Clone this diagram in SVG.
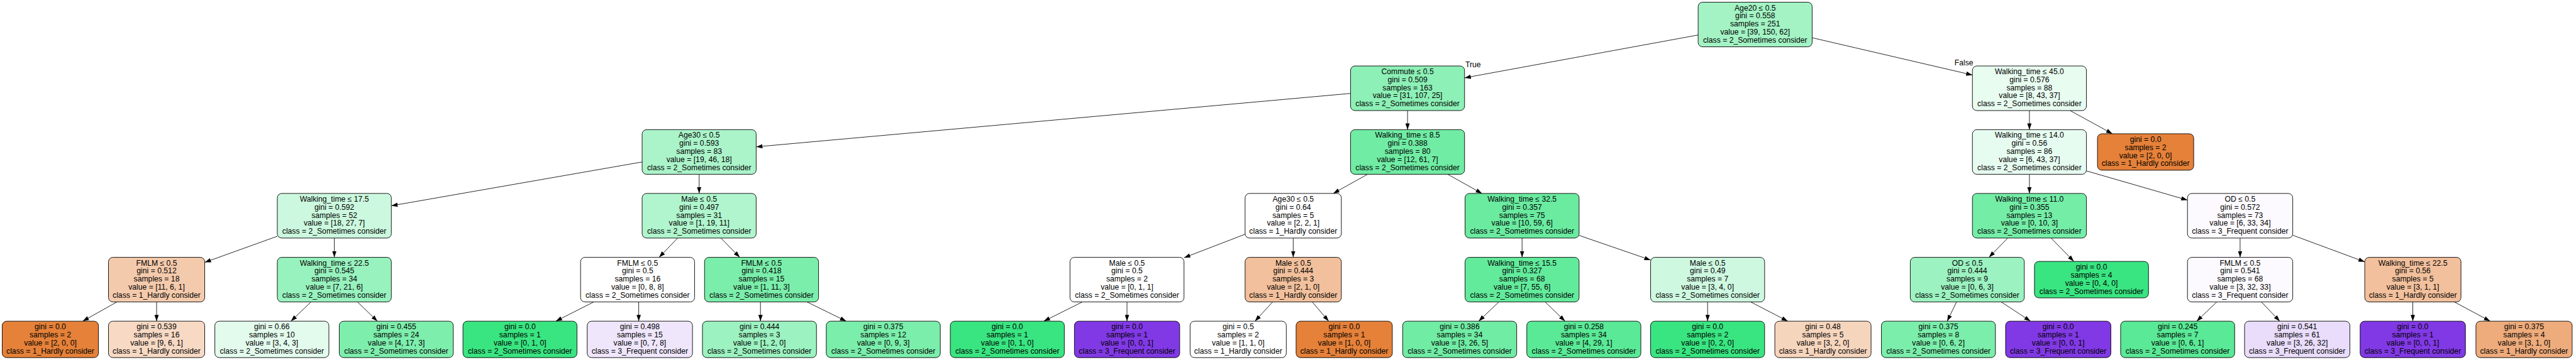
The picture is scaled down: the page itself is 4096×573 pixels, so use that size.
<svg xmlns="http://www.w3.org/2000/svg" width="4096" height="573" viewBox="0 0 4096 573">
<style>
.n{stroke:#000;stroke-width:0.9}
.t{font-family:"Liberation Sans",Arial,sans-serif;font-size:12.2px;fill:#000;text-anchor:middle}
.l{font-family:"Liberation Sans",Arial,sans-serif;font-size:12.2px;fill:#000}
.e line{stroke:#000;stroke-width:0.85;marker-end:url(#arr)}
</style>
<defs>
<marker id="arr" markerUnits="userSpaceOnUse" markerWidth="10" markerHeight="7" refX="9.6" refY="3.3" orient="auto" viewBox="0 0 9.6 6.6"><path d="M0,0 L9.6,3.3 L0,6.6 z" fill="#000"/></marker>
</defs>
<rect width="4096" height="573" fill="#fff"/>
<g id="connectors" class="e">
<line x1="2700.2" y1="55.7" x2="2328.8" y2="123.9"/>
<line x1="2881.5" y1="60.1" x2="3136.3" y2="119.4"/>
<line x1="2147.5" y1="148.7" x2="1202.4" y2="233.7"/>
<line x1="2238.1" y1="176" x2="2238.1" y2="206.4"/>
<line x1="3226.9" y1="176" x2="3226.9" y2="206.4"/>
<line x1="3291.6" y1="176" x2="3358.8" y2="212.9"/>
<line x1="1021.1" y1="257.8" x2="622.3" y2="327.5"/>
<line x1="1111.7" y1="277.4" x2="1111.7" y2="307.9"/>
<line x1="2174.5" y1="277.4" x2="2119.9" y2="307.9"/>
<line x1="2301.8" y1="277.4" x2="2356.5" y2="307.9"/>
<line x1="3226.9" y1="277.4" x2="3226.9" y2="307.9"/>
<line x1="3317.6" y1="272" x2="3478.2" y2="318.5"/>
<line x1="441" y1="376" x2="325.5" y2="417.6"/>
<line x1="531.6" y1="378.9" x2="531.6" y2="409.6"/>
<line x1="1077.5" y1="378.9" x2="1048" y2="409.6"/>
<line x1="1146.3" y1="378.9" x2="1176.3" y2="409.6"/>
<line x1="1979.8" y1="372.8" x2="1882.7" y2="410.2"/>
<line x1="2056.3" y1="378.9" x2="2056.3" y2="409.6"/>
<line x1="2420.2" y1="378.9" x2="2420.2" y2="409.6"/>
<line x1="2510.9" y1="374.7" x2="2624.6" y2="413.9"/>
<line x1="3192.4" y1="378.9" x2="3162.6" y2="409.6"/>
<line x1="3261.4" y1="378.9" x2="3297.5" y2="416.1"/>
<line x1="3561.9" y1="378.9" x2="3561.9" y2="409.6"/>
<line x1="3645.6" y1="374.4" x2="3760.1" y2="416.8"/>
<line x1="185.9" y1="480.6" x2="131.5" y2="511.2"/>
<line x1="249" y1="480.6" x2="249" y2="511.2"/>
<line x1="494.5" y1="480.6" x2="462.6" y2="511.2"/>
<line x1="568.4" y1="480.6" x2="600.1" y2="511.2"/>
<line x1="944" y1="480.6" x2="883.8" y2="511.2"/>
<line x1="1015.6" y1="480.6" x2="1015.6" y2="511.2"/>
<line x1="1209.2" y1="480.6" x2="1209.2" y2="511.2"/>
<line x1="1283.2" y1="480.6" x2="1345.5" y2="511.2"/>
<line x1="1721" y1="480.6" x2="1659.7" y2="511.2"/>
<line x1="1792" y1="480.6" x2="1792" y2="511.2"/>
<line x1="2023.6" y1="480.6" x2="1995.5" y2="511.2"/>
<line x1="2086.6" y1="480.6" x2="2112.7" y2="511.2"/>
<line x1="2383.2" y1="480.6" x2="2351.2" y2="511.2"/>
<line x1="2456.9" y1="480.6" x2="2488.5" y2="511.2"/>
<line x1="2715.2" y1="480.6" x2="2715.2" y2="511.2"/>
<line x1="2783.7" y1="480.6" x2="2842.7" y2="511.2"/>
<line x1="3111" y1="480.6" x2="3096.2" y2="511.2"/>
<line x1="3182.1" y1="480.6" x2="3228.6" y2="511.2"/>
<line x1="3524.8" y1="480.6" x2="3492.9" y2="511.2"/>
<line x1="3595.8" y1="480.6" x2="3625" y2="511.2"/>
<line x1="3836.5" y1="480.6" x2="3836.5" y2="511.2"/>
<line x1="3902.6" y1="480.6" x2="3959.5" y2="511.2"/>
<text class="l" x="2330" y="106.8">True</text>
<text class="l" x="3107.8" y="103.6">False</text>
</g>

<g id="root"><rect class="n" x="2700.15" y="3.5" width="181.3" height="71" rx="7" fill="#a3f3c4"/>
<text class="t"><tspan x="2790.8" y="16.5">Age20 ≤ 0.5</tspan><tspan x="2790.8" y="29.3">gini = 0.558</tspan><tspan x="2790.8" y="42.1">samples = 251</tspan><tspan x="2790.8" y="54.9">value = [39, 150, 62]</tspan><tspan x="2790.8" y="67.7">class = 2_Sometimes consider</tspan></text></g>

<g id="commute"><rect class="n" x="2147.45" y="105" width="181.3" height="71" rx="7" fill="#8df0b6"/>
<text class="t"><tspan x="2238.1" y="118">Commute ≤ 0.5</tspan><tspan x="2238.1" y="130.8">gini = 0.509</tspan><tspan x="2238.1" y="143.6">samples = 163</tspan><tspan x="2238.1" y="156.4">value = [31, 107, 25]</tspan><tspan x="2238.1" y="169.2">class = 2_Sometimes consider</tspan></text></g>

<g id="walk45"><rect class="n" x="3136.25" y="105" width="181.3" height="71" rx="7" fill="#e8fcf0"/>
<text class="t"><tspan x="3226.9" y="118">Walking_time ≤ 45.0</tspan><tspan x="3226.9" y="130.8">gini = 0.576</tspan><tspan x="3226.9" y="143.6">samples = 88</tspan><tspan x="3226.9" y="156.4">value = [8, 43, 37]</tspan><tspan x="3226.9" y="169.2">class = 2_Sometimes consider</tspan></text></g>

<g id="age30a"><rect class="n" x="1021.05" y="206.4" width="181.3" height="71" rx="7" fill="#abf4ca"/>
<text class="t"><tspan x="1111.7" y="219.4">Age30 ≤ 0.5</tspan><tspan x="1111.7" y="232.2">gini = 0.593</tspan><tspan x="1111.7" y="245">samples = 83</tspan><tspan x="1111.7" y="257.8">value = [19, 46, 18]</tspan><tspan x="1111.7" y="270.6">class = 2_Sometimes consider</tspan></text></g>

<g id="walk8_5"><rect class="n" x="2147.45" y="206.4" width="181.3" height="71" rx="7" fill="#70eca4"/>
<text class="t"><tspan x="2238.1" y="219.4">Walking_time ≤ 8.5</tspan><tspan x="2238.1" y="232.2">gini = 0.388</tspan><tspan x="2238.1" y="245">samples = 80</tspan><tspan x="2238.1" y="257.8">value = [12, 61, 7]</tspan><tspan x="2238.1" y="270.6">class = 2_Sometimes consider</tspan></text></g>

<g id="walk14"><rect class="n" x="3136.25" y="206.4" width="181.3" height="71" rx="7" fill="#e7fcf0"/>
<text class="t"><tspan x="3226.9" y="219.4">Walking_time ≤ 14.0</tspan><tspan x="3226.9" y="232.2">gini = 0.56</tspan><tspan x="3226.9" y="245">samples = 86</tspan><tspan x="3226.9" y="257.8">value = [6, 43, 37]</tspan><tspan x="3226.9" y="270.6">class = 2_Sometimes consider</tspan></text></g>

<g id="leafX"><rect class="n" x="3335.1" y="212.9" width="153" height="58" rx="7" fill="#e58139"/>
<text class="t"><tspan x="3411.6" y="225.9">gini = 0.0</tspan><tspan x="3411.6" y="238.7">samples = 2</tspan><tspan x="3411.6" y="251.5">value = [2, 0, 0]</tspan><tspan x="3411.6" y="264.3">class = 1_Hardly consider</tspan></text></g>

<g id="walk17_5"><rect class="n" x="440.95" y="307.9" width="181.3" height="71" rx="7" fill="#cbf8de"/>
<text class="t"><tspan x="531.6" y="320.9">Walking_time ≤ 17.5</tspan><tspan x="531.6" y="333.7">gini = 0.592</tspan><tspan x="531.6" y="346.5">samples = 52</tspan><tspan x="531.6" y="359.3">value = [18, 27, 7]</tspan><tspan x="531.6" y="372.1">class = 2_Sometimes consider</tspan></text></g>

<g id="male1"><rect class="n" x="1021.05" y="307.9" width="181.3" height="71" rx="7" fill="#b0f5cd"/>
<text class="t"><tspan x="1111.7" y="320.9">Male ≤ 0.5</tspan><tspan x="1111.7" y="333.7">gini = 0.497</tspan><tspan x="1111.7" y="346.5">samples = 31</tspan><tspan x="1111.7" y="359.3">value = [1, 19, 11]</tspan><tspan x="1111.7" y="372.1">class = 2_Sometimes consider</tspan></text></g>

<g id="age30b"><rect class="n" x="1979.8" y="307.9" width="153" height="71" rx="7" fill="#ffffff"/>
<text class="t"><tspan x="2056.3" y="320.9">Age30 ≤ 0.5</tspan><tspan x="2056.3" y="333.7">gini = 0.64</tspan><tspan x="2056.3" y="346.5">samples = 5</tspan><tspan x="2056.3" y="359.3">value = [2, 2, 1]</tspan><tspan x="2056.3" y="372.1">class = 1_Hardly consider</tspan></text></g>

<g id="walk32_5"><rect class="n" x="2329.55" y="307.9" width="181.3" height="71" rx="7" fill="#6aeba0"/>
<text class="t"><tspan x="2420.2" y="320.9">Walking_time ≤ 32.5</tspan><tspan x="2420.2" y="333.7">gini = 0.357</tspan><tspan x="2420.2" y="346.5">samples = 75</tspan><tspan x="2420.2" y="359.3">value = [10, 59, 6]</tspan><tspan x="2420.2" y="372.1">class = 2_Sometimes consider</tspan></text></g>

<g id="walk11"><rect class="n" x="3136.25" y="307.9" width="181.3" height="71" rx="7" fill="#74eda7"/>
<text class="t"><tspan x="3226.9" y="320.9">Walking_time ≤ 11.0</tspan><tspan x="3226.9" y="333.7">gini = 0.355</tspan><tspan x="3226.9" y="346.5">samples = 13</tspan><tspan x="3226.9" y="359.3">value = [0, 10, 3]</tspan><tspan x="3226.9" y="372.1">class = 2_Sometimes consider</tspan></text></g>

<g id="od1"><rect class="n" x="3478.2" y="307.9" width="167.4" height="71" rx="7" fill="#fcfafe"/>
<text class="t"><tspan x="3561.9" y="320.9">OD ≤ 0.5</tspan><tspan x="3561.9" y="333.7">gini = 0.572</tspan><tspan x="3561.9" y="346.5">samples = 73</tspan><tspan x="3561.9" y="359.3">value = [6, 33, 34]</tspan><tspan x="3561.9" y="372.1">class = 3_Frequent consider</tspan></text></g>

<g id="fmlm1"><rect class="n" x="172.5" y="409.6" width="153" height="71" rx="7" fill="#f4caac"/>
<text class="t"><tspan x="249" y="422.6">FMLM ≤ 0.5</tspan><tspan x="249" y="435.4">gini = 0.512</tspan><tspan x="249" y="448.2">samples = 18</tspan><tspan x="249" y="461">value = [11, 6, 1]</tspan><tspan x="249" y="473.8">class = 1_Hardly consider</tspan></text></g>

<g id="walk22_5a"><rect class="n" x="440.95" y="409.6" width="181.3" height="71" rx="7" fill="#98f2be"/>
<text class="t"><tspan x="531.6" y="422.6">Walking_time ≤ 22.5</tspan><tspan x="531.6" y="435.4">gini = 0.545</tspan><tspan x="531.6" y="448.2">samples = 34</tspan><tspan x="531.6" y="461">value = [7, 21, 6]</tspan><tspan x="531.6" y="473.8">class = 2_Sometimes consider</tspan></text></g>

<g id="fmlm2"><rect class="n" x="923.15" y="409.6" width="181.3" height="71" rx="7" fill="#ffffff"/>
<text class="t"><tspan x="1013.8" y="422.6">FMLM ≤ 0.5</tspan><tspan x="1013.8" y="435.4">gini = 0.5</tspan><tspan x="1013.8" y="448.2">samples = 16</tspan><tspan x="1013.8" y="461">value = [0, 8, 8]</tspan><tspan x="1013.8" y="473.8">class = 2_Sometimes consider</tspan></text></g>

<g id="fmlm3"><rect class="n" x="1120.25" y="409.6" width="181.3" height="71" rx="7" fill="#7beeab"/>
<text class="t"><tspan x="1210.9" y="422.6">FMLM ≤ 0.5</tspan><tspan x="1210.9" y="435.4">gini = 0.418</tspan><tspan x="1210.9" y="448.2">samples = 15</tspan><tspan x="1210.9" y="461">value = [1, 11, 3]</tspan><tspan x="1210.9" y="473.8">class = 2_Sometimes consider</tspan></text></g>

<g id="male2"><rect class="n" x="1701.35" y="409.6" width="181.3" height="71" rx="7" fill="#ffffff"/>
<text class="t"><tspan x="1792" y="422.6">Male ≤ 0.5</tspan><tspan x="1792" y="435.4">gini = 0.5</tspan><tspan x="1792" y="448.2">samples = 2</tspan><tspan x="1792" y="461">value = [0, 1, 1]</tspan><tspan x="1792" y="473.8">class = 2_Sometimes consider</tspan></text></g>

<g id="male3"><rect class="n" x="1979.8" y="409.6" width="153" height="71" rx="7" fill="#f2c09c"/>
<text class="t"><tspan x="2056.3" y="422.6">Male ≤ 0.5</tspan><tspan x="2056.3" y="435.4">gini = 0.444</tspan><tspan x="2056.3" y="448.2">samples = 3</tspan><tspan x="2056.3" y="461">value = [2, 1, 0]</tspan><tspan x="2056.3" y="473.8">class = 1_Hardly consider</tspan></text></g>

<g id="walk15_5"><rect class="n" x="2329.55" y="409.6" width="181.3" height="71" rx="7" fill="#63eb9c"/>
<text class="t"><tspan x="2420.2" y="422.6">Walking_time ≤ 15.5</tspan><tspan x="2420.2" y="435.4">gini = 0.327</tspan><tspan x="2420.2" y="448.2">samples = 68</tspan><tspan x="2420.2" y="461">value = [7, 55, 6]</tspan><tspan x="2420.2" y="473.8">class = 2_Sometimes consider</tspan></text></g>

<g id="male4"><rect class="n" x="2624.55" y="409.6" width="181.3" height="71" rx="7" fill="#cef8e0"/>
<text class="t"><tspan x="2715.2" y="422.6">Male ≤ 0.5</tspan><tspan x="2715.2" y="435.4">gini = 0.49</tspan><tspan x="2715.2" y="448.2">samples = 7</tspan><tspan x="2715.2" y="461">value = [3, 4, 0]</tspan><tspan x="2715.2" y="473.8">class = 2_Sometimes consider</tspan></text></g>

<g id="od2"><rect class="n" x="3037.45" y="409.6" width="181.3" height="71" rx="7" fill="#9cf2c0"/>
<text class="t"><tspan x="3128.1" y="422.6">OD ≤ 0.5</tspan><tspan x="3128.1" y="435.4">gini = 0.444</tspan><tspan x="3128.1" y="448.2">samples = 9</tspan><tspan x="3128.1" y="461">value = [0, 6, 3]</tspan><tspan x="3128.1" y="473.8">class = 2_Sometimes consider</tspan></text></g>

<g id="leafY"><rect class="n" x="3234.95" y="416.1" width="181.3" height="58" rx="7" fill="#39e581"/>
<text class="t"><tspan x="3325.6" y="429.1">gini = 0.0</tspan><tspan x="3325.6" y="441.9">samples = 4</tspan><tspan x="3325.6" y="454.7">value = [0, 4, 0]</tspan><tspan x="3325.6" y="467.5">class = 2_Sometimes consider</tspan></text></g>

<g id="fmlm4"><rect class="n" x="3478.2" y="409.6" width="167.4" height="71" rx="7" fill="#fcfafe"/>
<text class="t"><tspan x="3561.9" y="422.6">FMLM ≤ 0.5</tspan><tspan x="3561.9" y="435.4">gini = 0.541</tspan><tspan x="3561.9" y="448.2">samples = 68</tspan><tspan x="3561.9" y="461">value = [3, 32, 33]</tspan><tspan x="3561.9" y="473.8">class = 3_Frequent consider</tspan></text></g>

<g id="walk22_5b"><rect class="n" x="3760.1" y="409.6" width="153" height="71" rx="7" fill="#f2c09c"/>
<text class="t"><tspan x="3836.6" y="422.6">Walking_time ≤ 22.5</tspan><tspan x="3836.6" y="435.4">gini = 0.56</tspan><tspan x="3836.6" y="448.2">samples = 5</tspan><tspan x="3836.6" y="461">value = [3, 1, 1]</tspan><tspan x="3836.6" y="473.8">class = 1_Hardly consider</tspan></text></g>

<g id="leafA"><rect class="n" x="3.5" y="511.2" width="153" height="58" rx="7" fill="#e58139"/>
<text class="t"><tspan x="80" y="524.2">gini = 0.0</tspan><tspan x="80" y="537">samples = 2</tspan><tspan x="80" y="549.8">value = [2, 0, 0]</tspan><tspan x="80" y="562.6">class = 1_Hardly consider</tspan></text></g>

<g id="leafB"><rect class="n" x="172.5" y="511.2" width="153" height="58" rx="7" fill="#f7d9c4"/>
<text class="t"><tspan x="249" y="524.2">gini = 0.539</tspan><tspan x="249" y="537">samples = 16</tspan><tspan x="249" y="549.8">value = [9, 6, 1]</tspan><tspan x="249" y="562.6">class = 1_Hardly consider</tspan></text></g>

<g id="leafC"><rect class="n" x="341.65" y="511.2" width="181.3" height="58" rx="7" fill="#e3fbed"/>
<text class="t"><tspan x="432.3" y="524.2">gini = 0.66</tspan><tspan x="432.3" y="537">samples = 10</tspan><tspan x="432.3" y="549.8">value = [3, 4, 3]</tspan><tspan x="432.3" y="562.6">class = 2_Sometimes consider</tspan></text></g>

<g id="leafD"><rect class="n" x="539.45" y="511.2" width="181.3" height="58" rx="7" fill="#7eeead"/>
<text class="t"><tspan x="630.1" y="524.2">gini = 0.455</tspan><tspan x="630.1" y="537">samples = 24</tspan><tspan x="630.1" y="549.8">value = [4, 17, 3]</tspan><tspan x="630.1" y="562.6">class = 2_Sometimes consider</tspan></text></g>

<g id="leafE"><rect class="n" x="736.15" y="511.2" width="181.3" height="58" rx="7" fill="#39e581"/>
<text class="t"><tspan x="826.8" y="524.2">gini = 0.0</tspan><tspan x="826.8" y="537">samples = 1</tspan><tspan x="826.8" y="549.8">value = [0, 1, 0]</tspan><tspan x="826.8" y="562.6">class = 2_Sometimes consider</tspan></text></g>

<g id="leafF"><rect class="n" x="933.7" y="511.2" width="167.4" height="58" rx="7" fill="#efe6fc"/>
<text class="t"><tspan x="1017.4" y="524.2">gini = 0.498</tspan><tspan x="1017.4" y="537">samples = 15</tspan><tspan x="1017.4" y="549.8">value = [0, 7, 8]</tspan><tspan x="1017.4" y="562.6">class = 3_Frequent consider</tspan></text></g>

<g id="leafG"><rect class="n" x="1116.95" y="511.2" width="181.3" height="58" rx="7" fill="#9cf2c0"/>
<text class="t"><tspan x="1207.6" y="524.2">gini = 0.444</tspan><tspan x="1207.6" y="537">samples = 3</tspan><tspan x="1207.6" y="549.8">value = [1, 2, 0]</tspan><tspan x="1207.6" y="562.6">class = 2_Sometimes consider</tspan></text></g>

<g id="leafH"><rect class="n" x="1313.85" y="511.2" width="181.3" height="58" rx="7" fill="#7beeab"/>
<text class="t"><tspan x="1404.5" y="524.2">gini = 0.375</tspan><tspan x="1404.5" y="537">samples = 12</tspan><tspan x="1404.5" y="549.8">value = [0, 9, 3]</tspan><tspan x="1404.5" y="562.6">class = 2_Sometimes consider</tspan></text></g>

<g id="leafI"><rect class="n" x="1511.05" y="511.2" width="181.3" height="58" rx="7" fill="#39e581"/>
<text class="t"><tspan x="1601.7" y="524.2">gini = 0.0</tspan><tspan x="1601.7" y="537">samples = 1</tspan><tspan x="1601.7" y="549.8">value = [0, 1, 0]</tspan><tspan x="1601.7" y="562.6">class = 2_Sometimes consider</tspan></text></g>

<g id="leafJ"><rect class="n" x="1708.4" y="511.2" width="167.4" height="58" rx="7" fill="#8139e5"/>
<text class="t"><tspan x="1792.1" y="524.2">gini = 0.0</tspan><tspan x="1792.1" y="537">samples = 1</tspan><tspan x="1792.1" y="549.8">value = [0, 0, 1]</tspan><tspan x="1792.1" y="562.6">class = 3_Frequent consider</tspan></text></g>

<g id="leafK"><rect class="n" x="1892.3" y="511.2" width="153" height="58" rx="7" fill="#ffffff"/>
<text class="t"><tspan x="1968.8" y="524.2">gini = 0.5</tspan><tspan x="1968.8" y="537">samples = 2</tspan><tspan x="1968.8" y="549.8">value = [1, 1, 0]</tspan><tspan x="1968.8" y="562.6">class = 1_Hardly consider</tspan></text></g>

<g id="leafL"><rect class="n" x="2060.9" y="511.2" width="153" height="58" rx="7" fill="#e58139"/>
<text class="t"><tspan x="2137.4" y="524.2">gini = 0.0</tspan><tspan x="2137.4" y="537">samples = 1</tspan><tspan x="2137.4" y="549.8">value = [1, 0, 0]</tspan><tspan x="2137.4" y="562.6">class = 1_Hardly consider</tspan></text></g>

<g id="leafM"><rect class="n" x="2230.35" y="511.2" width="181.3" height="58" rx="7" fill="#70eca4"/>
<text class="t"><tspan x="2321" y="524.2">gini = 0.386</tspan><tspan x="2321" y="537">samples = 34</tspan><tspan x="2321" y="549.8">value = [3, 26, 5]</tspan><tspan x="2321" y="562.6">class = 2_Sometimes consider</tspan></text></g>

<g id="leafN"><rect class="n" x="2427.75" y="511.2" width="181.3" height="58" rx="7" fill="#5ae996"/>
<text class="t"><tspan x="2518.4" y="524.2">gini = 0.258</tspan><tspan x="2518.4" y="537">samples = 34</tspan><tspan x="2518.4" y="549.8">value = [4, 29, 1]</tspan><tspan x="2518.4" y="562.6">class = 2_Sometimes consider</tspan></text></g>

<g id="leafO"><rect class="n" x="2624.55" y="511.2" width="181.3" height="58" rx="7" fill="#39e581"/>
<text class="t"><tspan x="2715.2" y="524.2">gini = 0.0</tspan><tspan x="2715.2" y="537">samples = 2</tspan><tspan x="2715.2" y="549.8">value = [0, 2, 0]</tspan><tspan x="2715.2" y="562.6">class = 2_Sometimes consider</tspan></text></g>

<g id="leafP"><rect class="n" x="2822.1" y="511.2" width="153" height="58" rx="7" fill="#f6d5bd"/>
<text class="t"><tspan x="2898.6" y="524.2">gini = 0.48</tspan><tspan x="2898.6" y="537">samples = 5</tspan><tspan x="2898.6" y="549.8">value = [3, 2, 0]</tspan><tspan x="2898.6" y="562.6">class = 1_Hardly consider</tspan></text></g>

<g id="leafQ"><rect class="n" x="2991.55" y="511.2" width="181.3" height="58" rx="7" fill="#7beeab"/>
<text class="t"><tspan x="3082.2" y="524.2">gini = 0.375</tspan><tspan x="3082.2" y="537">samples = 8</tspan><tspan x="3082.2" y="549.8">value = [0, 6, 2]</tspan><tspan x="3082.2" y="562.6">class = 2_Sometimes consider</tspan></text></g>

<g id="leafR"><rect class="n" x="3189" y="511.2" width="167.4" height="58" rx="7" fill="#8139e5"/>
<text class="t"><tspan x="3272.7" y="524.2">gini = 0.0</tspan><tspan x="3272.7" y="537">samples = 1</tspan><tspan x="3272.7" y="549.8">value = [0, 0, 1]</tspan><tspan x="3272.7" y="562.6">class = 3_Frequent consider</tspan></text></g>

<g id="leafS"><rect class="n" x="3371.95" y="511.2" width="181.3" height="58" rx="7" fill="#5ae996"/>
<text class="t"><tspan x="3462.6" y="524.2">gini = 0.245</tspan><tspan x="3462.6" y="537">samples = 7</tspan><tspan x="3462.6" y="549.8">value = [0, 6, 1]</tspan><tspan x="3462.6" y="562.6">class = 2_Sometimes consider</tspan></text></g>

<g id="leafT"><rect class="n" x="3569" y="511.2" width="167.4" height="58" rx="7" fill="#e9ddfb"/>
<text class="t"><tspan x="3652.7" y="524.2">gini = 0.541</tspan><tspan x="3652.7" y="537">samples = 61</tspan><tspan x="3652.7" y="549.8">value = [3, 26, 32]</tspan><tspan x="3652.7" y="562.6">class = 3_Frequent consider</tspan></text></g>

<g id="leafU"><rect class="n" x="3752.8" y="511.2" width="167.4" height="58" rx="7" fill="#8139e5"/>
<text class="t"><tspan x="3836.5" y="524.2">gini = 0.0</tspan><tspan x="3836.5" y="537">samples = 1</tspan><tspan x="3836.5" y="549.8">value = [0, 0, 1]</tspan><tspan x="3836.5" y="562.6">class = 3_Frequent consider</tspan></text></g>

<g id="leafV"><rect class="n" x="3936.9" y="511.2" width="153" height="58" rx="7" fill="#eeab7b"/>
<text class="t"><tspan x="4013.4" y="524.2">gini = 0.375</tspan><tspan x="4013.4" y="537">samples = 4</tspan><tspan x="4013.4" y="549.8">value = [3, 1, 0]</tspan><tspan x="4013.4" y="562.6">class = 1_Hardly consider</tspan></text></g>
</svg>
